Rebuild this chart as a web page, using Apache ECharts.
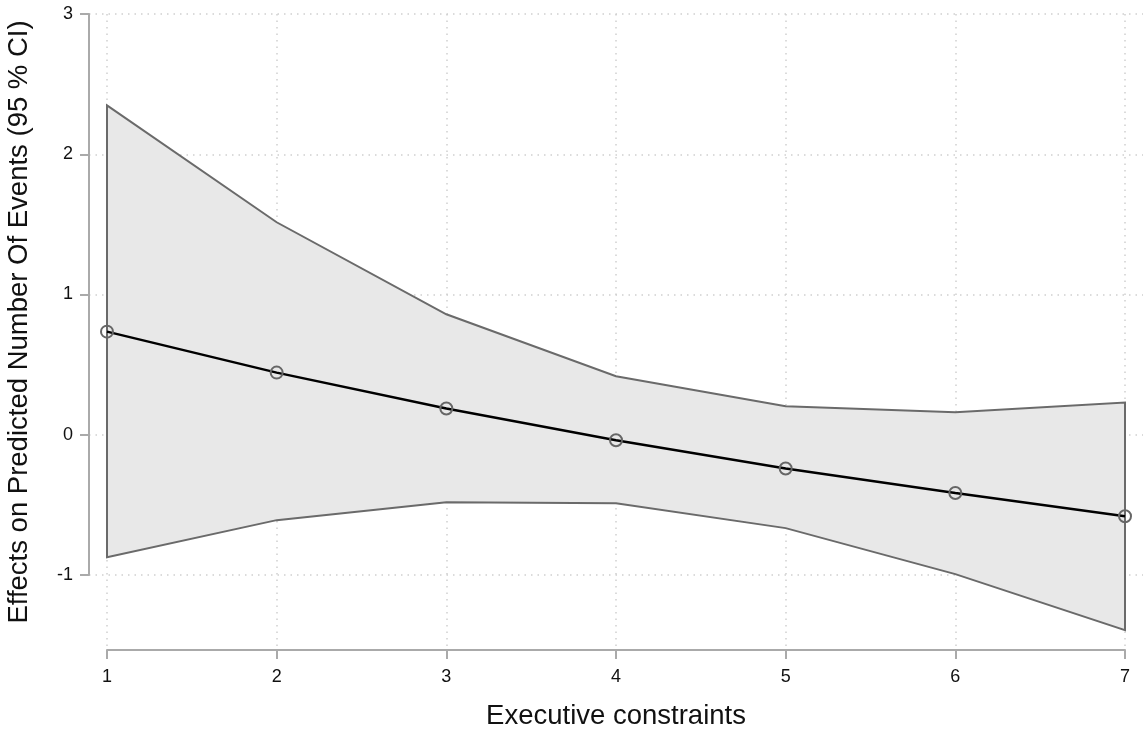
<!DOCTYPE html>
<html>
<head>
<meta charset="utf-8">
<script src="https://cdn.jsdelivr.net/npm/echarts@6/dist/echarts.min.js"></script>
<style>
  html, body { margin: 0; padding: 0; background: #fff; }
  #chart { width: 1144px; height: 729px; }
</style>
</head>
<body>
<div id="chart"></div>
<script>
// executive constraints (x) and margins with 95% CI
const xValues = [1, 2, 3, 4, 5, 6, 7]
const effect = [0.735, 0.443, 0.187, -0.039, -0.241, -0.415, -0.581]
const upper = [2.348, 1.515, 0.859, 0.417, 0.203, 0.160, 0.229]
const lower = [-0.873, -0.609, -0.481, -0.488, -0.666, -0.994, -1.393]

const font = '"Liberation Sans", Arial, Helvetica, sans-serif'
const gridColor = '#cfcfcf'
const axisColor = '#aaaaaa'

const chart = echarts.init(document.getElementById('chart'))

// band polygon: upper edge left->right, lower edge right->left
function renderBand(params, api) {
  if (params.dataIndex !== 0) return null
  const pts = []
  xValues.forEach((x, i) => pts.push(api.coord([x, upper[i]])))
  for (let i = xValues.length - 1; i >= 0; i--) pts.push(api.coord([xValues[i], lower[i]]))
  return {
    type: 'polygon',
    shape: { points: pts },
    style: { fill: '#e8e8e8', stroke: '#6a6a6a', lineWidth: 2, lineJoin: 'miter' }
  }
}

const option = {
  backgroundColor: '#ffffff',
  animation: false,
  grid: [
    // data grid, x axis spans 1..7
    { left: 107, right: 19, top: 14, bottom: 79, outerBoundsMode: 'none', containLabel: false },
    // y axis grid, spans 3..-1 only
    { left: 89, right: 1, top: 14, height: 561, outerBoundsMode: 'none', containLabel: false }
  ],
  xAxis: [
    {
      gridIndex: 0,
      type: 'value',
      min: 1,
      max: 7,
      interval: 1,
      name: 'Executive constraints',
      nameLocation: 'middle',
      nameGap: 52,
      nameTextStyle: { fontFamily: font, fontSize: 27.5, color: '#111' },
      axisLine: { show: true, onZero: false, lineStyle: { color: axisColor, width: 2 } },
      axisTick: { show: true, length: 9, lineStyle: { color: axisColor, width: 2 } },
      axisLabel: { fontFamily: font, fontSize: 18, color: '#111', margin: 18 },
      splitLine: { show: true, lineStyle: { color: gridColor, type: [1.5, 5], width: 1.5 } }
    },
    {
      gridIndex: 1,
      type: 'value',
      min: 0.894,
      max: 7.106,
      show: false
    }
  ],
  yAxis: [
    {
      gridIndex: 0,
      type: 'value',
      min: -1.535,
      max: 3,
      show: false,
      splitLine: { show: false }
    },
    {
      gridIndex: 1,
      type: 'value',
      min: -1,
      max: 3,
      interval: 1,
      axisLine: { show: true, onZero: false, lineStyle: { color: axisColor, width: 2 } },
      axisTick: { show: true, length: 9, lineStyle: { color: axisColor, width: 2 } },
      axisLabel: { fontFamily: font, fontSize: 18, color: '#111', margin: 16 },
      splitLine: { show: true, lineStyle: { color: gridColor, type: [1.5, 5], width: 1.5 } }
    }
  ],
  graphic: [
    {
      type: 'text',
      x: 19,
      y: 322,
      rotation: Math.PI / 2,
      style: {
        text: 'Effects on Predicted Number Of Events (95 % CI)',
        font: '27.5px ' + font,
        fill: '#111',
        align: 'center',
        verticalAlign: 'middle'
      }
    }
  ],
  series: [
    {
      type: 'custom',
      xAxisIndex: 0,
      yAxisIndex: 0,
      renderItem: renderBand,
      data: xValues.map((x, i) => [x, lower[i], upper[i]]),
      encode: { x: 0, y: [1, 2] },
      z: 2
    },
    {
      type: 'line',
      xAxisIndex: 0,
      yAxisIndex: 0,
      data: xValues.map((x, i) => [x, effect[i]]),
      symbol: 'circle',
      symbolSize: 12,
      clip: false,
      lineStyle: { color: '#000', width: 2.5 },
      itemStyle: { color: 'rgba(0,0,0,0)', borderColor: '#666', borderWidth: 2 },
      z: 3
    }
  ]
}

chart.setOption(option)
</script>
</body>
</html>
